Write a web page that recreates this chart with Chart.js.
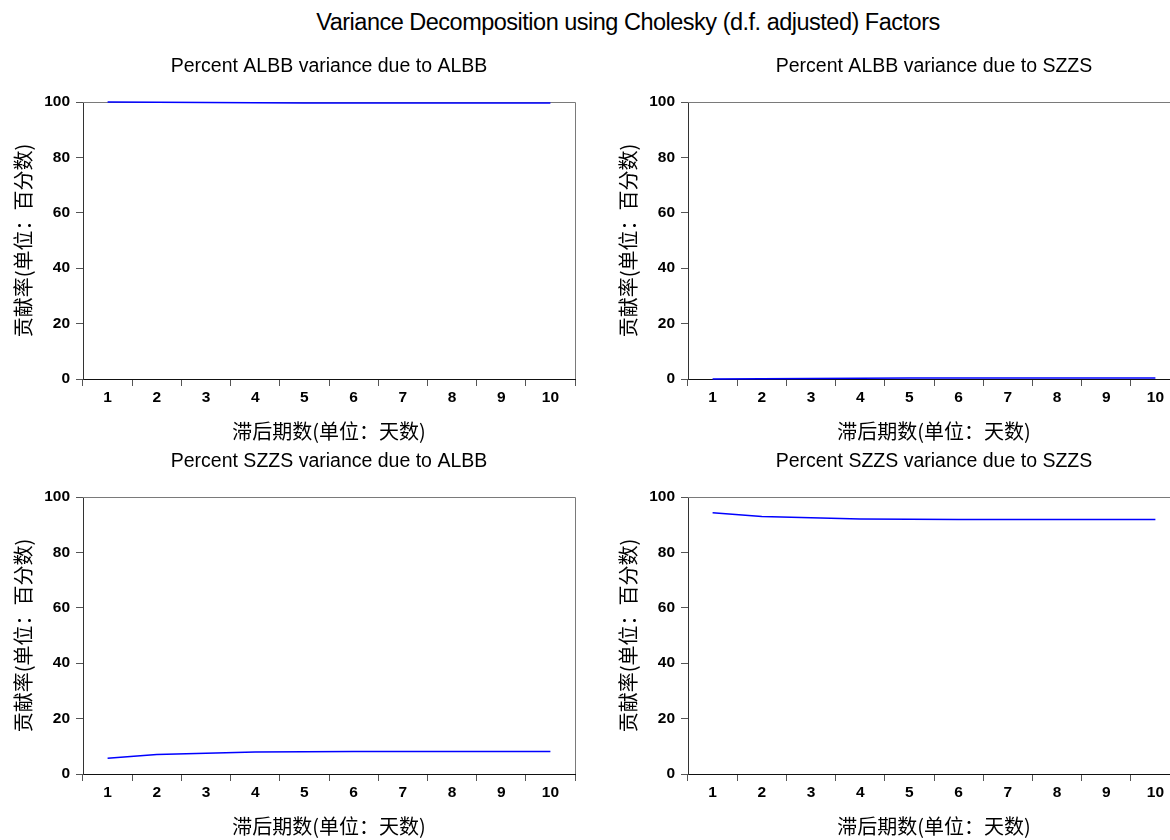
<!DOCTYPE html>
<html>
<head>
<meta charset="utf-8">
<script src="https://cdn.jsdelivr.net/npm/chart.js@4.4.1/dist/chart.umd.min.js"></script>
<style>
    html, body { margin: 0; padding: 0; background: #fff; }
    #page { position: relative; width: 1170px; height: 840px; overflow: hidden; }
    #maintitle {
        position: absolute; left: 0; top: 11px; width: 1256px; text-align: center;
        font: 23.5px "Liberation Sans", Arial, sans-serif; letter-spacing: -0.5px; color: #000;
        line-height: 23px;
    }
    canvas { position: absolute; }
</style>
</head>
<body>
<div id="page">
    <div id="maintitle">Variance Decomposition using Cholesky (d.f. adjusted) Factors</div>
    <canvas id="c1" width="605" height="405" style="left:0px;top:40px"></canvas>
    <canvas id="c2" width="605" height="405" style="left:605px;top:40px"></canvas>
    <canvas id="c3" width="605" height="405" style="left:0px;top:435px"></canvas>
    <canvas id="c4" width="605" height="405" style="left:605px;top:435px"></canvas>
</div>
<script>
// lag periods (days)
var lags = ['1', '2', '3', '4', '5', '6', '7', '8', '9', '10'];
var yTicks = [0, 20, 40, 60, 80, 100];

// variance shares, percent
var albbDueAlbb = [100, 99.9, 99.85, 99.7, 99.62, 99.6, 99.6, 99.6, 99.6, 99.6];
var albbDueSzzs = [0, 0.1, 0.15, 0.3, 0.38, 0.4, 0.4, 0.4, 0.4, 0.4];
var szzsDueAlbb = [5.7, 7.0, 7.5, 7.9, 8.0, 8.1, 8.1, 8.1, 8.1, 8.1];
var szzsDueSzzs = [94.3, 93.0, 92.5, 92.1, 92.0, 91.9, 91.9, 91.9, 91.9, 91.9];

var xTitle = '滞后期数(单位：天数)';
var yTitle = '贡献率(单位：百分数)';
var cjk = '"Noto Sans CJK SC", "Liberation Sans", sans-serif';
var arial = '"Liberation Sans", Arial, sans-serif';

// grey box on top and right of the plot area, under the line
var frame = {
    id: 'frame',
    beforeDatasetsDraw: function(chart) {
        var a = chart.chartArea, ctx = chart.ctx;
        ctx.save();
        ctx.strokeStyle = '#7a7a7a';
        ctx.lineWidth = 1;
        ctx.beginPath();
        ctx.moveTo(a.left, Math.round(a.top) + 0.5);
        ctx.lineTo(Math.round(a.right) + 0.5, Math.round(a.top) + 0.5);
        ctx.lineTo(Math.round(a.right) + 0.5, a.bottom);
        ctx.stroke();
        ctx.restore();
    }
};

function panel(id, title, values) {
    return new Chart(document.getElementById(id), {
        type: 'line',
        data: {
            labels: lags,
            datasets: [{
                data: values,
                borderColor: '#0000ff',
                borderWidth: 1.5,
                pointRadius: 0,
                tension: 0,
                fill: false,
                clip: 2
            }]
        },
        options: {
            responsive: false,
            animation: false,
            devicePixelRatio: 1,
            layout: { padding: { left: 0, right: 30, top: 0, bottom: 0 } },
            plugins: {
                legend: { display: false },
                tooltip: { enabled: false },
                title: {
                    display: true,
                    text: title,
                    fullSize: false,
                    color: '#000',
                    font: { family: arial, size: 19.5, weight: 'normal' },
                    padding: { top: 14.5, bottom: 24.1 }
                }
            },
            scales: {
                x: {
                    type: 'category',
                    offset: true,
                    afterFit: function(s) { s.height = 66; },
                    grid: { offset: true, drawOnChartArea: false, tickLength: 7, color: '#555' },
                    border: { display: true, color: '#111', width: 1 },
                    ticks: {
                        padding: 2,
                        color: '#000',
                        font: { family: arial, size: 15.5, weight: 'bold' }
                    },
                    title: {
                        display: true,
                        text: xTitle,
                        color: '#000',
                        font: { family: cjk, size: 20, weight: 'normal' },
                        padding: { top: 0, bottom: 2 }
                    }
                },
                y: {
                    min: 0,
                    max: 100,
                    afterFit: function(s) { s.width = 83; },
                    afterBuildTicks: function(s) {
                        s.ticks = yTicks.map(function(v) { return { value: v }; });
                    },
                    grid: { drawOnChartArea: false, tickLength: 7, color: '#555' },
                    border: { display: true, color: '#333', width: 1 },
                    ticks: {
                        padding: 6,
                        color: '#000',
                        font: { family: arial, size: 15.5, weight: 'bold' }
                    },
                    title: {
                        display: true,
                        text: yTitle,
                        color: '#000',
                        font: { family: cjk, size: 20, weight: 'normal' },
                        padding: { top: 11, bottom: 0 }
                    }
                }
            }
        },
        plugins: [frame]
    });
}

panel('c1', 'Percent ALBB variance due to ALBB', albbDueAlbb);
panel('c2', 'Percent ALBB variance due to SZZS', albbDueSzzs);
panel('c3', 'Percent SZZS variance due to ALBB', szzsDueAlbb);
panel('c4', 'Percent SZZS variance due to SZZS', szzsDueSzzs);
</script>
</body>
</html>
